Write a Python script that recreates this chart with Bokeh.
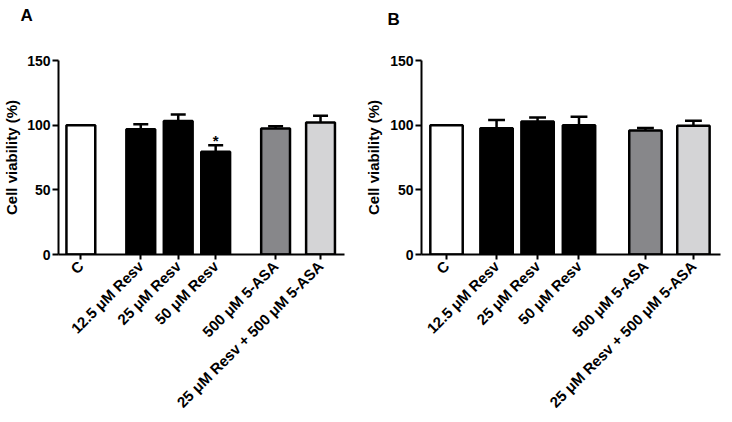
import math
from bokeh.plotting import figure
from bokeh.layouts import row
from bokeh.models import FixedTicker, Range1d, Title
from bokeh.core.properties import value
from bokeh.embed import file_html
from bokeh.resources import INLINE

# ---- data ----
labels = ["C", "12.5 μM Resv", "25 μM Resv", "50 μM Resv", "500 μM 5-ASA", "25 μM Resv + 500 μM 5-ASA"]
colors = ["#ffffff", "#000000", "#000000", "#000000", "#87878a", "#d4d4d6"]
viability_A = [100.0, 96.9, 103.3, 79.5, 97.4, 102.0]
sem_A = [0.0, 3.9, 4.9, 4.9, 1.8, 5.2]
viability_B = [100.0, 97.6, 102.9, 100.0, 95.8, 99.6]
sem_B = [0.0, 6.4, 3.0, 6.6, 2.0, 3.8]
y_ticks = [0, 50, 100, 150]
star_A = [False, False, False, True, False, False]

# ---- layout (positions of bars along the axis) ----
pos_A = [0.0, 1.6, 2.6, 3.6, 5.2, 6.4]
pos_B = [0.0, 1.22, 2.22, 3.23, 4.85, 6.02]

FONT = "Liberation Sans"
H = 421


def panel(letter, title_off, vals, sems, pos, xr, bw, border_left, border_right, border_top, frame_h,
          ylab_standoff, stars=None):
    p = figure(width=362, height=H, output_backend="svg", toolbar_location=None,
               x_range=Range1d(*xr), y_range=Range1d(0, 150),
               min_border_left=border_left, min_border_right=border_right,
               min_border_top=border_top, min_border_bottom=H - border_top - frame_h)
    p.outline_line_color = None
    p.grid.visible = False
    p.background_fill_color = "white"
    p.border_fill_color = "white"

    # spacer between the frame and the panel letter
    p.add_layout(Title(text=" ", text_font_size="1px", standoff=border_top - 32), "above")
    p.title.text = letter
    p.title.text_font = FONT
    p.title.text_font_size = "17px"
    p.title.text_font_style = "bold"
    p.title.text_color = "black"
    p.title.align = "left"
    p.title.vertical_align = "top"
    p.title.offset = title_off
    p.title.standoff = 6

    tops = [v + s for v, s in zip(vals, sems)]
    cw = bw * 0.26
    # error bars (upper only)
    p.segment(x0=pos, y0=vals, x1=pos, y1=tops, line_color="black", line_width=2.5)
    p.segment(x0=[x - cw for x in pos], y0=tops, x1=[x + cw for x in pos], y1=tops,
              line_color="black", line_width=2.5)
    p.vbar(x=pos, top=vals, bottom=0, width=bw, fill_color=colors,
           line_color="black", line_width=2.5)

    if stars:
        sx = [x for x, s in zip(pos, stars) if s]
        sy = [t for t, s in zip(tops, stars) if s]
        p.text(x=sx, y=sy, text=["*"] * len(sx), text_align="center", text_baseline="bottom",
               text_font=value(FONT), text_font_size="15px", text_font_style="bold",
               y_offset=4, text_color="black")

    # y axis
    ya = p.yaxis[0]
    ya.ticker = FixedTicker(ticks=y_ticks)
    ya.minor_tick_line_color = None
    ya.major_tick_in = 0
    ya.major_tick_out = 6
    ya.major_tick_line_width = 2
    ya.axis_line_width = 2
    ya.axis_line_color = "black"
    ya.major_tick_line_color = "black"
    ya.major_label_standoff = 2
    ya.major_label_text_font = FONT
    ya.major_label_text_font_style = "bold"
    ya.major_label_text_font_size = "14px"
    ya.major_label_text_color = "black"
    ya.axis_label = "Cell viability (%)"
    ya.axis_label_text_font = FONT
    ya.axis_label_text_font_style = "bold"
    ya.axis_label_text_font_size = "15px"
    ya.axis_label_text_color = "black"
    ya.axis_label_standoff = ylab_standoff

    # x axis
    xa = p.xaxis[0]
    xa.ticker = FixedTicker(ticks=pos)
    xa.major_label_overrides = {x: l for x, l in zip(pos, labels)}
    xa.major_label_orientation = math.pi / 4
    xa.minor_tick_line_color = None
    xa.major_tick_in = 0
    xa.major_tick_out = 5
    xa.major_tick_line_width = 2
    xa.axis_line_width = 2
    xa.axis_line_color = "black"
    xa.major_tick_line_color = "black"
    xa.major_label_standoff = 4
    xa.major_label_text_font = FONT
    xa.major_label_text_font_style = "bold"
    xa.major_label_text_font_size = "15px"
    xa.major_label_text_color = "black"
    return p


pA = panel("A", -38, viability_A, sem_A, pos_A, (-0.597, 7.04), 0.77, 50, 18, 60, 195, 4, star_A)
pB = panel("B", -34, viability_B, sem_B, pos_B, (-0.61, 6.68), 0.79, 59, 4, 56, 198, 5)

layout = row(pA, pB, spacing=0)
open("out.html", "w").write(file_html(layout, INLINE))
